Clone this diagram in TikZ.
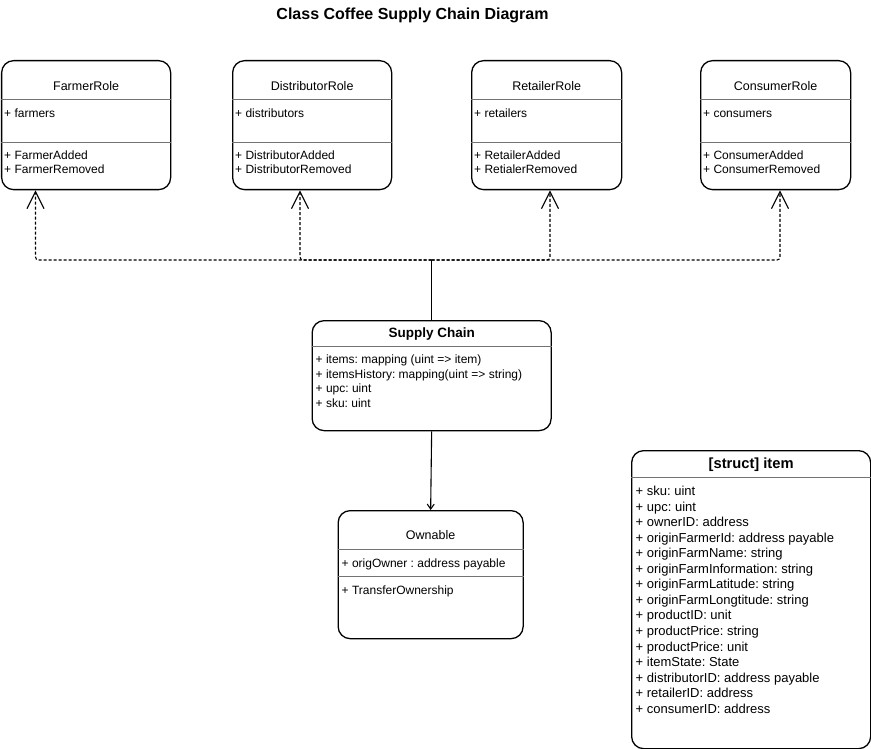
\documentclass[tikz,border=0pt]{standalone}
\usepackage{fontspec}
\setmainfont{Liberation Sans}
\usetikzlibrary{arrows.meta,calc}
\frenchspacing
\begin{document}
\begin{tikzpicture}[x=1pt,y=-1pt,
  box/.style={draw, line width=1.3pt, rounded corners=12pt, anchor=north west, inner sep=0pt},
  divl/.style={draw=black!55, line width=0.7pt},
  txt/.style={anchor=west, inner sep=0pt, yshift=-1.6pt, text height=8.6pt, text depth=2.4pt, font=\fontsize{12}{14}\selectfont},
  itxt/.style={anchor=west, inner sep=0pt, yshift=-1.5pt, text height=9.3pt, text depth=2.6pt, font=\fontsize{13}{15}\selectfont},
  ttl/.style={inner sep=0pt, yshift=-0.8pt, font=\fontsize{12.5}{15}\selectfont},
  bttl/.style={inner sep=0pt, yshift=-1.3pt, font=\fontsize{13.5}{16}\selectfont\bfseries},
  dep/.style={line width=1.1pt, dash pattern=on 3pt off 2pt, rounded corners=3pt, -{Straight Barb[length=17pt,width=17pt,line width=1.2pt]}},
  assoc/.style={line width=1.1pt, -{Straight Barb[length=5pt,width=7pt,line width=1.1pt]}},
  solidl/.style={line width=1.1pt}]
\useasboundingbox (0,0) rectangle (871,749);
\node[inner sep=0pt, font=\fontsize{16}{18}\selectfont\bfseries] (title) at (412.5,15) {Class Coffee Supply Chain Diagram};

% FarmerRole
\node[box, minimum width=169pt, minimum height=129pt] (farmer) at (1,60) {};
\node[ttl] (farmerT) at (farmer.center |- 0,85) {FarmerRole};
\draw[divl] (farmer.west |- 0,99) -- (farmer.east |- 0,99);
\draw[divl] (farmer.west |- 0,142) -- (farmer.east |- 0,142);
\node[txt] (farmerA) at (4,113) {+ farmers};
\node[txt] (farmerB) at (4,154.5) {+ FarmerAdded};
\node[txt] (farmerC) at (4,169) {+ FarmerRemoved};

% DistributorRole
\node[box, minimum width=159pt, minimum height=129pt] (dist) at (232,60) {};
\node[ttl] (distT) at (dist.center |- 0,85) {DistributorRole};
\draw[divl] (dist.west |- 0,99) -- (dist.east |- 0,99);
\draw[divl] (dist.west |- 0,142) -- (dist.east |- 0,142);
\node[txt] (distA) at (235,113) {+ distributors};
\node[txt] (distB) at (235,154.5) {+ DistributorAdded};
\node[txt] (distC) at (235,169) {+ DistributorRemoved};

% RetailerRole
\node[box, minimum width=150pt, minimum height=129pt] (ret) at (471,60) {};
\node[ttl] (retT) at (ret.center |- 0,85) {RetailerRole};
\draw[divl] (ret.west |- 0,99) -- (ret.east |- 0,99);
\draw[divl] (ret.west |- 0,142) -- (ret.east |- 0,142);
\node[txt] (retA) at (474,113) {+ retailers};
\node[txt] (retB) at (474,154.5) {+ RetailerAdded};
\node[txt] (retC) at (474,169) {+ RetialerRemoved};

% ConsumerRole
\node[box, minimum width=150pt, minimum height=129pt] (cons) at (700,60) {};
\node[ttl] (consT) at (cons.center |- 0,85) {ConsumerRole};
\draw[divl] (cons.west |- 0,99) -- (cons.east |- 0,99);
\draw[divl] (cons.west |- 0,142) -- (cons.east |- 0,142);
\node[txt] (consA) at (703,113) {+ consumers};
\node[txt] (consB) at (703,154.5) {+ ConsumerAdded};
\node[txt] (consC) at (703,169) {+ ConsumerRemoved};

% Supply Chain
\node[box, minimum width=239pt, minimum height=110pt] (sc) at (311.5,320) {};
\node[bttl] (scT) at (sc.center |- 0,333) {Supply Chain};
\draw[divl] (sc.west |- 0,346.5) -- (sc.east |- 0,346.5);
\node[txt] (scA) at (315.5,358.5) {+ items: mapping (uint => item)};
\node[txt] (scB) at (315.5,373.5) {+ itemsHistory: mapping(uint => string)};
\node[txt] (scC) at (315.5,388) {+ upc: uint};
\node[txt] (scD) at (315.5,403) {+ sku: uint};

% Ownable
\node[box, minimum width=185pt, minimum height=128pt] (own) at (337.5,510) {};
\node[ttl] (ownT) at (own.center |- 0,534.5) {Ownable};
\draw[divl] (own.west |- 0,549) -- (own.east |- 0,549);
\draw[divl] (own.west |- 0,576) -- (own.east |- 0,576);
\node[txt] (ownA) at (341.5,562.5) {+ origOwner : address payable};
\node[txt] (ownB) at (341.5,589.5) {+ TransferOwnership};

% [struct] item
\node[box, minimum width=239pt, minimum height=298pt] (item) at (631,450) {};
\node[bttl, font=\fontsize{14.7}{17}\selectfont\bfseries] (itemT) at (item.center |- 0,463.5) {[struct] item};
\draw[divl] (item.west |- 0,477) -- (item.east |- 0,477);
\foreach \t [count=\i from 0] in {{+ sku: uint},{+ upc: uint},{+ ownerID: address},{+ originFarmerId: address payable},{+ originFarmName: string},{+ originFarmInformation: string},{+ originFarmLatitude: string},{+ originFarmLongtitude: string},{+ productID: unit},{+ productPrice: string},{+ productPrice: unit},{+ itemState: State},{+ distributorID: address payable},{+ retailerID: address},{+ consumerID: address}}{
  \node[itxt] (itemL\i) at (635.5,490.8+15.54*\i) {\t};
}

% connectors
\coordinate (j) at (sc.north |- 0,260);
\draw[solidl] (sc.north) -- (j);
\draw[dep] (j) -| (farmer.south -| 35.5,0);
\draw[dep] (j) -| (dist.south -| 300,0);
\draw[dep] (j) -| (ret.south -| 550,0);
\draw[dep] (j) -| (cons.south -| 780,0);
\draw[assoc] (sc.south) -- (own.north);
\end{tikzpicture}
\end{document}
